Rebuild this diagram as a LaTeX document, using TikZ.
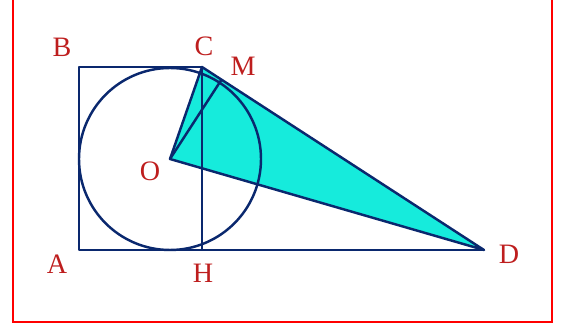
\documentclass[tikz,border=0pt]{standalone}
\usepackage{xcolor}
\usepackage{fontspec}
\setmainfont{Liberation Serif}
\usepackage{tikz}
\usetikzlibrary{calc}

\definecolor{navy}{RGB}{10,40,110}
\definecolor{lbl}{RGB}{190,30,30}
\definecolor{fillc}{RGB}{22,235,220}

\begin{document}
\begin{tikzpicture}[x=0.02cm, y=-0.02cm,
  seg/.style={navy, line width=1.4pt, line join=round},
  pt/.style={lbl, font=\fontsize{16}{18}\selectfont}]
\useasboundingbox (0,0) rectangle (562,324);
\draw[red, line width=1.1pt] (13,-5) rectangle (552,322);

\coordinate (A) at (79,250);
\coordinate (B) at (79,67);
\coordinate (C) at (202,67);
\coordinate (H) at (202,250);
\coordinate (D) at (484,250);
\coordinate (O) at (170,159);
\coordinate (M) at ($(C)!(O)!(D)$);

\fill[fillc] (O) -- (C) -- (D) -- cycle;
\draw[seg] (O) circle (91);
\draw[seg] (D) -- (A) -- (B) -- (C) -- (H);
\draw[seg] (O) -- (C) -- (D) -- cycle;
\draw[seg] (O) -- (M);

\node[pt] (lA) at (57,264) {A};
\node[pt] (lB) at (62,47) {B};
\node[pt] (lC) at (204,46) {C};
\node[pt] (lM) at (243,66) {M};
\node[pt] (lO) at (150,171) {O};
\node[pt] (lH) at (203,273) {H};
\node[pt] (lD) at (509,254) {D};
\end{tikzpicture}
\end{document}
